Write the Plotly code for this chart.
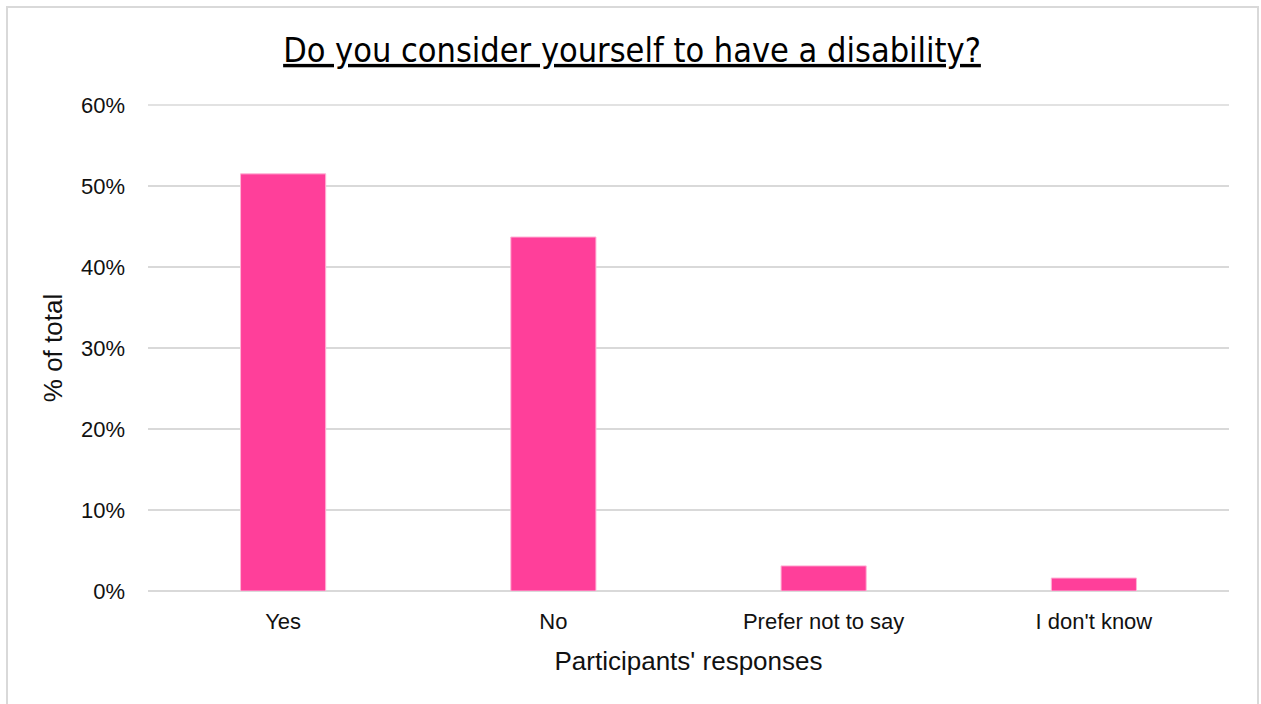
import plotly.graph_objects as go

categories = ["Yes", "No", "Prefer not to say", "I don't know"]
values = [0.515, 0.437, 0.031, 0.016]

title_text = "Do you consider yourself to have a disability?"
x_title = "Participants' responses"
y_title = "% of total"
y_ticks = [0, 0.1, 0.2, 0.3, 0.4, 0.5, 0.6]

W, H = 1261, 704
L, R, T, B = 148, 32, 105, 113
pw, ph = W - L - R, H - T - B

fig = go.Figure(go.Bar(
    x=categories, y=values,
    width=0.315,
    marker=dict(color="#FF3F9A", line=dict(color="#FFB3D6", width=1)),
    hoverinfo="skip",
))

def px_x(p):
    return (p - L) / pw

def px_y(p):
    return (H - B - p) / ph

fig.add_shape(type="rect", xref="paper", yref="paper",
              x0=px_x(7), x1=px_x(1258), y0=px_y(715), y1=px_y(7),
              line=dict(color="#D9D9D9", width=2), fillcolor="rgba(0,0,0,0)", layer="below")

# top gridline at the top of the y range (plotly skips the gridline at the range edge)
fig.add_shape(type="line", xref="paper", yref="paper", x0=0, x1=1, y0=1, y1=1,
              line=dict(color="#D9D9D9", width=1.5), layer="below")

fig.update_layout(
    width=W, height=H,
    margin=dict(l=L, r=R, t=T, b=B, autoexpand=False),
    paper_bgcolor="white", plot_bgcolor="white",
    showlegend=False,
    title=dict(text="<u>" + title_text + "</u>", xref="paper", xanchor="center",
               y=1 - 50 / H, yref="container", yanchor="middle",
               font=dict(family="Liberation Sans Narrow, DejaVu Sans Condensed, Arial Narrow, sans-serif",
                         size=34, color="#000000")),
    font=dict(family="Liberation Sans, Arial, sans-serif", color="#000000"),
)
fig.update_layout(title_x=0.5 + (632 - (L + pw / 2)) / pw)

fig.update_xaxes(
    showgrid=False, showline=False, zeroline=False,
    tickfont=dict(size=22, color="#111111"),
    ticklabelstandoff=15,
    title=dict(text=x_title, font=dict(size=26, color="#111111"), standoff=18),
    range=[-0.5, 3.5],
)
fig.update_yaxes(
    range=[0, y_ticks[-1]], tickvals=y_ticks, tickformat=".0%",
    showgrid=True, gridcolor="#D9D9D9", gridwidth=1.5,
    zeroline=True, zerolinecolor="#D9D9D9", zerolinewidth=1.5, showline=False,
    tickfont=dict(size=22, color="#111111"),
    ticklabelstandoff=22,
    title=dict(text=y_title, font=dict(size=26, color="#111111"), standoff=10),
)

fig.write_html("out.html")
